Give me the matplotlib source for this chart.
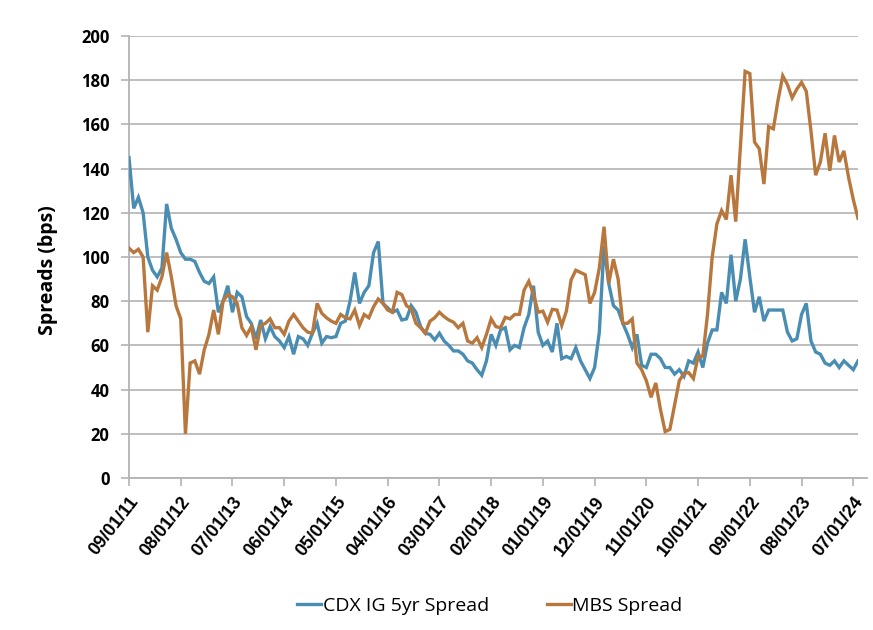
import matplotlib
matplotlib.use("Agg")
import matplotlib.pyplot as plt

# Monthly observations, 09/2011 .. 08/2024
cdx_ig_5yr = [145, 122, 127, 120, 100, 94, 91, 95, 124, 113,
              108, 102, 99, 99, 98, 93, 89, 88, 91, 75,
              80, 87, 75, 84, 82, 73, 70, 63, 71.5, 63,
              68.5, 64, 62, 59, 64, 56, 64, 63, 60, 65.5,
              70, 61, 64, 63.5, 64, 70, 71, 80, 93, 79,
              84, 87, 102, 107, 79, 77, 75, 76, 71.5, 72,
              78, 75, 68.5, 65.5, 65, 62.5, 65.5, 62, 60, 57.5,
              57.5, 56, 53, 52, 49, 46.5, 53, 65, 60, 67,
              68, 58, 60, 59, 68, 74, 87, 66, 60, 62,
              57, 70, 54, 55, 54, 59, 53, 49, 45, 50,
              66, 105, 88, 78, 76, 70, 65, 59, 65, 51,
              50, 56, 56, 54, 50, 50, 47, 49, 46, 53,
              52, 57, 50, 61, 67, 67, 84, 79, 101, 80,
              90, 108, 91, 75, 82, 71, 76, 76, 76, 76,
              66, 62, 63, 74, 79, 62, 57, 56, 52, 51,
              53, 50, 53, 51, 49, 53]

mbs_spread = [104, 102, 103.5, 100, 66, 87, 85, 91, 102, 91,
              78, 72, 20, 52, 53, 47, 58, 65, 76, 65,
              80, 83, 82, 79, 68, 64.5, 68.5, 58, 69, 70,
              72, 68, 68, 65, 71, 74, 71, 68, 66, 65.5,
              79, 74.5, 72.5, 71, 70, 74, 72.5, 72, 76, 69,
              74, 72.5, 77.5, 81, 79, 76, 75, 84, 83, 78,
              76.5, 70, 68, 65.5, 71, 72.5, 75, 73, 71.5, 70.5,
              68, 70, 62, 61, 63.5, 59, 65, 72, 68.5, 68,
              72.7, 72, 74, 74, 85, 89, 83, 75, 75.5, 70.5,
              76.3, 76, 69, 75.5, 89.6, 94, 93, 92, 79, 84,
              95, 113.7, 88, 99, 90, 70, 70, 72, 52, 49,
              44, 36.5, 43, 31, 21, 22, 33, 44, 47.4, 47.7,
              45, 55, 55, 74, 100, 115, 121, 117, 137, 116,
              150, 184, 183, 152, 149, 133, 159, 158, 171, 182,
              178, 172, 176, 179, 175, 157, 137, 143, 156, 139,
              155, 143, 148, 136, 126, 117.5]

tick_labels = ['09/01/11', '08/01/12', '07/01/13', '06/01/14', '05/01/15',
               '04/01/16', '03/01/17', '02/01/18', '01/01/19', '12/01/19',
               '11/01/20', '10/01/21', '09/01/22', '08/01/23', '07/01/24']
tick_step = 11
y_ticks = [0, 20, 40, 60, 80, 100, 120, 140, 160, 180, 200]

series_names = ['CDX IG 5yr Spread', 'MBS Spread']
blue = '#4a8db3'
orange = '#b8773d'
grid_col = '#b3b3b3'

W, H = 873, 630
fig = plt.figure(figsize=(W / 100, H / 100), dpi=100)
left, right, top, bottom = 129, 858, 36, 478
ax = fig.add_axes([left / W, 1 - bottom / H, (right - left) / W, (bottom - top) / H])

n = len(cdx_ig_5yr)
x = list(range(n))
ax.plot(x, cdx_ig_5yr, color=blue, lw=2.4, solid_joinstyle='miter', label=series_names[0], zorder=3)
ax.plot(x, mbs_spread, color=orange, lw=2.4, solid_joinstyle='miter', label=series_names[1], zorder=3)

ax.set_xlim(0, n - 1)
ax.set_ylim(0, 200)
ax.set_yticks(y_ticks)
ax.set_yticklabels([str(v) for v in y_ticks], fontfamily='Open Sans', fontweight='bold', fontsize=12)
ax.yaxis.grid(True, color=grid_col, lw=1.2)
ax.set_axisbelow(True)

xt = [i * tick_step for i in range(len(tick_labels))]
ax.set_xticks(xt)
ax.set_xticklabels(tick_labels, rotation=52, ha='right', va='top', rotation_mode='anchor',
                   fontfamily='Liberation Sans', fontweight='bold', fontsize=13)

for s in ['top', 'right']:
    ax.spines[s].set_visible(False)
for s in ['left', 'bottom']:
    ax.spines[s].set_color(grid_col)
    ax.spines[s].set_linewidth(1.3)
ax.tick_params(axis='both', color=grid_col, length=6, width=1.2, direction='out')
ax.tick_params(axis='x', pad=5)
ax.tick_params(axis='y', pad=8)
# extend x-axis line a little past the last point
ax.plot([n - 1, n + 1], [0, 0], color=grid_col, lw=1.3, clip_on=False, zorder=2)

ax.set_ylabel('Spreads (bps)', fontfamily='Open Sans', fontweight='bold', fontsize=14, labelpad=14)
ax.yaxis.set_label_coords(-0.097, 0.47)

leg = fig.legend(loc='center', bbox_to_anchor=(490 / W, 1 - 606 / H), ncol=2, frameon=False,
                 prop={'family': 'Open Sans', 'size': 14}, handlelength=1.2, handletextpad=0.1,
                 columnspacing=3.0)

fig.savefig('out.png', dpi=100)
